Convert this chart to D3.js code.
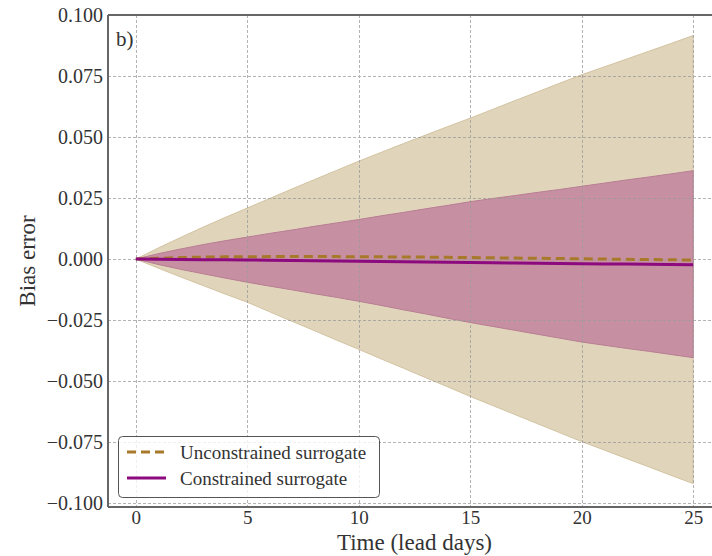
<!DOCTYPE html>
<html>
<head>
<meta charset="utf-8">
<script src="https://cdn.jsdelivr.net/npm/d3@7"></script>
<style>
  html, body { margin: 0; padding: 0; background: #fff; }
  svg { display: block; font-family: "Liberation Serif", serif; }
</style>
</head>
<body>
<svg id="chart" width="712" height="556"></svg>
<script>
// lead days
const days = d3.range(0, 26);

// unconstrained surrogate: mean and band edges
const unconMean  = [0, 0.0003, 0.0006, 0.0008, 0.0009, 0.0009, 0.001, 0.001, 0.001, 0.001, 0.0009, 0.0009, 0.0008, 0.0008, 0.0007, 0.0006, 0.0005, 0.0004, 0.0003, 0.0002, 0.0001, 0, -0.0001, -0.0002, -0.0003, -0.0004];
const unconUpper = [0, 0.0045, 0.0088, 0.013, 0.017, 0.0209, 0.0248, 0.0287, 0.0325, 0.0363, 0.0401, 0.0437, 0.0473, 0.0508, 0.0543, 0.0577, 0.0613, 0.0649, 0.0684, 0.072, 0.0755, 0.0787, 0.0819, 0.0851, 0.0883, 0.0916];
const unconLower = [0, -0.0037, -0.0073, -0.0108, -0.0143, -0.0177, -0.0216, -0.0255, -0.0293, -0.0332, -0.037, -0.0409, -0.0447, -0.0486, -0.0524, -0.0563, -0.06, -0.0637, -0.0674, -0.0711, -0.0748, -0.0782, -0.0817, -0.0851, -0.0886, -0.092];

// constrained surrogate
const conMean  = [0, -0.0001, -0.0002, -0.0003, -0.0003, -0.0004, -0.0005, -0.0006, -0.0007, -0.0008, -0.0009, -0.001, -0.0011, -0.0012, -0.0013, -0.0014, -0.0015, -0.0016, -0.0017, -0.0018, -0.0019, -0.002, -0.002, -0.0021, -0.0022, -0.0023];
const conUpper = [0, 0.0022, 0.0041, 0.0059, 0.0075, 0.009, 0.0105, 0.0119, 0.0134, 0.0148, 0.0162, 0.0177, 0.0191, 0.0206, 0.022, 0.0235, 0.0248, 0.026, 0.0273, 0.0285, 0.0298, 0.0311, 0.0324, 0.0336, 0.0349, 0.0362];
const conLower = [0, -0.0022, -0.0042, -0.006, -0.0078, -0.0095, -0.0111, -0.0126, -0.0142, -0.0157, -0.0173, -0.019, -0.0208, -0.0225, -0.0243, -0.026, -0.0276, -0.0292, -0.0308, -0.0324, -0.034, -0.0353, -0.0366, -0.0378, -0.0391, -0.0404];

const xTicks = [0, 5, 10, 15, 20, 25];
const yTicks = [0.1, 0.075, 0.05, 0.025, 0, -0.025, -0.05, -0.075, -0.1];
const legendLabels = ["Unconstrained surrogate", "Constrained surrogate"];

const svg = d3.select("#chart");
const margin = { left: 108, top: 15, right: 721, bottom: 507 };

const x = d3.scaleLinear().domain([-1.25, 26.25]).range([margin.left, margin.right]);
const y = d3.scaleLinear().domain([-0.1016, 0.1]).range([margin.bottom, margin.top]);

const rows = days.map((d, i) => ({
    day: d,
    uM: unconMean[i], uU: unconUpper[i], uL: unconLower[i],
    cM: conMean[i], cU: conUpper[i], cL: conLower[i]
}));

svg.append("clipPath").attr("id", "clip")
    .append("rect")
    .attr("x", margin.left).attr("y", margin.top)
    .attr("width", margin.right - margin.left).attr("height", margin.bottom - margin.top);

const plot = svg.append("g").attr("clip-path", "url(#clip)");

// bands
const bandU = d3.area().x(d => x(d.day)).y0(d => y(d.uL)).y1(d => y(d.uU));
const bandC = d3.area().x(d => x(d.day)).y0(d => y(d.cL)).y1(d => y(d.cU));

plot.append("path").datum(rows)
    .attr("d", bandU)
    .attr("fill", "#e0d5bb")
    .attr("stroke", "#d3c2a0")
    .attr("stroke-width", 1);

plot.append("path").datum(rows)
    .attr("d", bandC)
    .attr("fill", "#c690a2")
    .attr("stroke", "#b97d93")
    .attr("stroke-width", 1);

// grid on top
const grid = plot.append("g")
    .attr("stroke", "#9a9a9a")
    .attr("stroke-width", 1)
    .attr("stroke-dasharray", "3,2")
    .attr("opacity", 0.75);

grid.selectAll(".vg").data(xTicks).enter().append("line")
    .attr("x1", d => Math.round(x(d)) + 0.5).attr("x2", d => Math.round(x(d)) + 0.5)
    .attr("y1", margin.top).attr("y2", margin.bottom);

grid.selectAll(".hg").data(yTicks).enter().append("line")
    .attr("x1", margin.left).attr("x2", margin.right)
    .attr("y1", d => Math.round(y(d)) + 0.5).attr("y2", d => Math.round(y(d)) + 0.5);

// mean lines
const lineU = d3.line().x(d => x(d.day)).y(d => y(d.uM));
const lineC = d3.line().x(d => x(d.day)).y(d => y(d.cM));

plot.append("path").datum(rows)
    .attr("d", lineU)
    .attr("fill", "none")
    .attr("stroke", "#a8792a")
    .attr("stroke-width", 3)
    .attr("stroke-dasharray", "9,5");

plot.append("path").datum(rows)
    .attr("d", lineC)
    .attr("fill", "none")
    .attr("stroke", "#8c0a7e")
    .attr("stroke-width", 3);

// spines
svg.append("line")
    .attr("x1", margin.left).attr("x2", margin.left)
    .attr("y1", margin.top).attr("y2", margin.bottom)
    .attr("stroke", "#666").attr("stroke-width", 2);
svg.append("line")
    .attr("x1", margin.left).attr("x2", 712)
    .attr("y1", margin.bottom).attr("y2", margin.bottom)
    .attr("stroke", "#666").attr("stroke-width", 2);
svg.append("line")
    .attr("x1", margin.left).attr("x2", 712)
    .attr("y1", margin.top).attr("y2", margin.top)
    .attr("stroke", "#666").attr("stroke-width", 2);

// tick labels
const fmtY = d => (d < 0 ? "\u2212" : "") + Math.abs(d).toFixed(3);

const yAxis = svg.append("g")
    .attr("transform", `translate(${margin.left},0)`)
    .call(d3.axisLeft(y).tickValues(yTicks).tickFormat(fmtY).tickSize(0).tickPadding(5));
yAxis.select(".domain").remove();
yAxis.selectAll("text")
    .attr("font-family", "Liberation Serif, serif")
    .attr("font-size", 20)
    .attr("fill", "#333")
    .attr("dy", "0.34em");

const xAxis = svg.append("g")
    .attr("transform", `translate(0,${margin.bottom})`)
    .call(d3.axisBottom(x).tickValues(xTicks).tickFormat(d3.format("d")).tickSize(0).tickPadding(0));
xAxis.select(".domain").remove();
xAxis.selectAll("text")
    .attr("font-family", "Liberation Serif, serif")
    .attr("font-size", 19)
    .attr("fill", "#333")
    .attr("y", 17)
    .attr("dy", null);

svg.append("text")
    .attr("x", (margin.left + margin.right) / 2)
    .attr("y", 550)
    .attr("text-anchor", "middle")
    .attr("font-size", 23)
    .attr("fill", "#333")
    .text("Time (lead days)");

svg.append("text")
    .attr("transform", `translate(35,${(margin.top + margin.bottom) / 2}) rotate(-90)`)
    .attr("text-anchor", "middle")
    .attr("font-size", 23)
    .attr("fill", "#333")
    .text("Bias error");

svg.append("text")
    .attr("x", 116)
    .attr("y", 46)
    .attr("font-size", 21)
    .attr("fill", "#333")
    .text("b)");

// legend
const legend = svg.append("g");
legend.append("rect")
    .attr("x", 118.5).attr("y", 436.5)
    .attr("width", 261).attr("height", 61)
    .attr("rx", 4)
    .attr("fill", "#fff").attr("fill-opacity", 0.8)
    .attr("stroke", "#555").attr("stroke-width", 1);

const legendStyles = [
    { stroke: "#a8792a", dash: "9,5" },
    { stroke: "#8c0a7e", dash: null }
];

legendLabels.forEach((label, i) => {
    const ly = 452 + i * 26;
    legend.append("line")
        .attr("x1", 127).attr("x2", 166)
        .attr("y1", ly).attr("y2", ly)
        .attr("stroke", legendStyles[i].stroke)
        .attr("stroke-width", 3)
        .attr("stroke-dasharray", legendStyles[i].dash);
    legend.append("text")
        .attr("x", 180).attr("y", ly + 7)
        .attr("font-size", 19)
        .attr("fill", "#333")
        .text(label);
});
</script>
</body>
</html>
